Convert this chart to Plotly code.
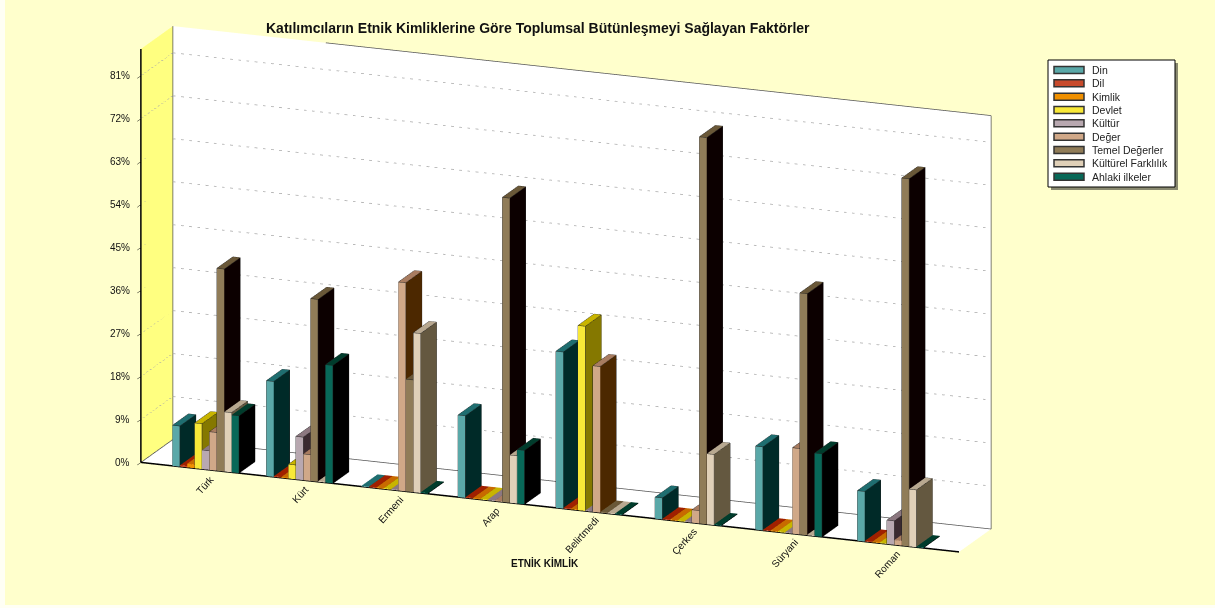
import plotly.graph_objects as go

title = "Katılımcıların Etnik Kimliklerine Göre Toplumsal Bütünleşmeyi Sağlayan Faktörler"
axis_title = "ETNİK KİMLİK"
categories = ["Türk", "Kürt", "Ermeni", "Arap", "Belirtmedi", "Çerkes", "Süryani", "Roman"]
series = ["Din", "Dil", "Kimlik", "Devlet", "Kültür", "Değer", "Temel Değerler", "Kültürel Farklılık", "Ahlaki ilkeler"]
din = [8.5, 20, 0, 17.2, 32.8, 4.5, 17.5, 10.5]
dil = [0.3, 0, 0, 0, 0, 0, 0, 0]
kimlik = [0.8, 0, 0, 0, 0, 0, 0, 0]
devlet = [9.5, 3, 0, 0, 38.7, 0, 0, 0]
kultur = [4, 9, 0, 0, 0, 0, 0, 5]
deger = [8, 5.5, 43.7, 0, 30.6, 2.7, 18, 1]
temel = [42.4, 38.2, 23.5, 63.8, 0, 81, 50.6, 77]
farklilik = [12.5, 0, 33.4, 10, 0, 14.8, 0, 12]
ahlaki = [12, 24.7, 0, 11.3, 0, 0, 17.4, 0]
values = [din, dil, kimlik, devlet, kultur, deger, temel, farklilik, ahlaki]
tick_vals = [0, 9, 18, 27, 36, 45, 54, 63, 72, 81]
tick_text = [f"{t}%" for t in tick_vals]

front_c = ["#5AA8A8", "#C84A2C", "#F09000", "#F8E838", "#B8A8B0", "#D0A888", "#907C58", "#E0D0B8", "#086858"]
top_c = ["#1F6E70", "#A02000", "#C86A00", "#C8B400", "#8C7880", "#A87C60", "#6A5838", "#B8A890", "#003C2C"]
side_c = ["#002A28", "#400800", "#5A3000", "#857800", "#3A2A30", "#4C2800", "#0C0000", "#645840", "#000000"]

XMIN, XMAX, ZMAX = -0.663, 7.70, 86.6
BAR_W, BAR_D, FLAT = 0.0755, 0.5, 0.15
# the original's perspective squeezes the middle categories slightly towards the left
cat_pos = [c - 0.0068 * c * (7 - c) for c in range(len(categories))]

fig = go.Figure()
ex, ey, ez = [], [], []


def edge(a, b):
    ex.extend([a[0], b[0], None])
    ey.extend([a[1], b[1], None])
    ez.extend([a[2], b[2], None])


for s, vals in enumerate(values):
    X, Y, Z, I, J, K, FC = [], [], [], [], [], [], []
    for c, v in enumerate(vals):
        x0 = cat_pos[c] + (s - 4.5) * BAR_W
        x1 = x0 + BAR_W
        h = max(v, FLAT)
        n = len(X)
        P = [(x0, 0, 0), (x1, 0, 0), (x1, 0, h), (x0, 0, h),
             (x0, BAR_D, h), (x1, BAR_D, h), (x1, BAR_D, 0)]
        for p in P:
            X.append(p[0]); Y.append(p[1]); Z.append(p[2])
        faces = [((0, 1, 2), front_c[s]), ((0, 2, 3), front_c[s]),
                 ((3, 2, 5), top_c[s]), ((3, 5, 4), top_c[s]),
                 ((1, 6, 5), side_c[s]), ((1, 5, 2), side_c[s])]
        for (a, b, d), col in faces:
            I.append(n + a); J.append(n + b); K.append(n + d); FC.append(col)
        if v > 1:
            for a, b in [(0, 1), (1, 2), (2, 3), (3, 0), (3, 4), (4, 5), (5, 2), (5, 6), (6, 1)]:
                edge(P[a], P[b])
    fig.add_trace(go.Mesh3d(x=X, y=Y, z=Z, i=I, j=J, k=K, facecolor=FC, flatshading=True,
                            lighting=dict(ambient=1, diffuse=0, specular=0, roughness=1, fresnel=0),
                            hoverinfo="skip", name=series[s], showlegend=False))

fig.add_trace(go.Scatter3d(x=ex, y=ey, z=ez, mode="lines", line=dict(color="#222222", width=1),
                           hoverinfo="skip", showlegend=False))

# dotted grid on the back and left walls
for t in tick_vals[1:]:
    fig.add_trace(go.Scatter3d(x=[XMIN, XMIN, XMAX], y=[0, 1, 1], z=[t, t, t], mode="lines",
                               line=dict(color="#a8a8a8", width=1.5, dash="dot"),
                               hoverinfo="skip", showlegend=False))

# frame edges
fig.add_trace(go.Scatter3d(x=[XMIN, XMIN, None, XMIN, XMAX], y=[0, 0, None, 0, 0], z=[ZMAX, 0, None, 0, 0],
                           mode="lines", line=dict(color="#000000", width=3), hoverinfo="skip", showlegend=False))
fig.add_trace(go.Scatter3d(x=[XMIN, XMIN, XMAX, XMAX, None, XMIN, XMIN, None, 0.9, XMAX],
                           y=[1, 1, 1, 1, None, 0, 1, None, 1, 1],
                           z=[ZMAX, 0, 0, ZMAX, None, 0, 0, None, ZMAX, ZMAX], mode="lines",
                           line=dict(color="#555555", width=1.5), hoverinfo="skip", showlegend=False))

label_font = dict(family="Liberation Sans", size=10, color="#111111")
scene_ann = []
for c, name in enumerate(categories):
    scene_ann.append(dict(x=cat_pos[c], y=0, z=0, text=name, showarrow=False, textangle=-48,
                          xanchor="right", yanchor="top", xshift=14, yshift=-1, font=label_font))
for t, name in zip(tick_vals, tick_text):
    scene_ann.append(dict(x=XMIN, y=0, z=t, text=name, showarrow=False, xanchor="right", yanchor="middle",
                          xshift=-9, font=label_font))

plain = dict(showgrid=False, zeroline=False, showspikes=False, showline=False, title=dict(text=""))
scene = dict(
    domain=dict(x=[0, 0.9317], y=[0.049, 1]),
    aspectmode="manual", aspectratio=dict(x=3.04, y=0.304, z=1.49),
    camera=dict(projection=dict(type="orthographic"), eye=dict(x=1.4, y=-3.58, z=1.12),
                up=dict(x=0, y=0, z=1), center=dict(x=0, y=0, z=0)),
    xaxis=dict(plain, range=[XMIN, XMAX], tickvals=cat_pos, showticklabels=False, showbackground=True,
               backgroundcolor="#FFFF80", ticks=""),
    yaxis=dict(plain, range=[0, 1], showticklabels=False, showbackground=True,
               backgroundcolor="#FFFFFF", ticks=""),
    zaxis=dict(plain, range=[0, ZMAX], tickvals=tick_vals, showticklabels=False,
               showbackground=True, backgroundcolor="#FFFFFF", ticks="outside", ticklen=4, tickcolor="#000000"),
    annotations=scene_ann,
)

W, H = 1215, 608
shapes = [
    dict(type="rect", xref="paper", yref="paper", x0=0, x1=5/W, y0=0, y1=1, fillcolor="#FFFFF4", line=dict(width=0)),
    dict(type="rect", xref="paper", yref="paper", x0=0, x1=1, y0=0, y1=3/H, fillcolor="#FFFFF4", line=dict(width=0)),
    dict(type="rect", xref="paper", yref="paper", x0=1051/W, x1=1178/W, y0=1-190/H, y1=1-63/H,
         fillcolor="#8a8a70", line=dict(width=0)),
    dict(type="rect", xref="paper", yref="paper", x0=1048/W, x1=1175/W, y0=1-187/H, y1=1-60/H,
         fillcolor="#FFFFFF", line=dict(color="#000000", width=1)),
]
ann = [dict(text=f"<b>{title}</b>", xref="paper", yref="paper", x=538/W, y=1-28/H, showarrow=False,
            xanchor="center", yanchor="middle", font=dict(family="Liberation Sans", size=14, color="#111111")),
       dict(text=f"<b>{axis_title}</b>", xref="paper", yref="paper", x=545/W, y=1-563/H, showarrow=False,
            xanchor="center", yanchor="middle", font=dict(family="Liberation Sans", size=10, color="#111111"))]
for i, name in enumerate(series):
    yc = 70 + i * 13.33
    shapes.append(dict(type="rect", xref="paper", yref="paper", x0=1054/W, x1=1084/W, y0=1-(yc+3.5)/H, y1=1-(yc-3.5)/H,
                       fillcolor=front_c[i], line=dict(color="#333333", width=1.5)))
    ann.append(dict(text=name, xref="paper", yref="paper", x=1090/W, y=1-yc/H, xanchor="left", yanchor="middle",
                    showarrow=False, font=dict(family="Liberation Sans", size=10.5, color="#222222")))

fig.update_layout(width=W, height=H, margin=dict(l=0, r=0, t=0, b=0), paper_bgcolor="#FFFFCC",
                  showlegend=False, scene=scene, shapes=shapes, annotations=ann)
fig.write_html("out.html", config=dict(displayModeBar=False),
               post_script="document.body.style.margin='0';document.body.style.overflow='hidden';")
